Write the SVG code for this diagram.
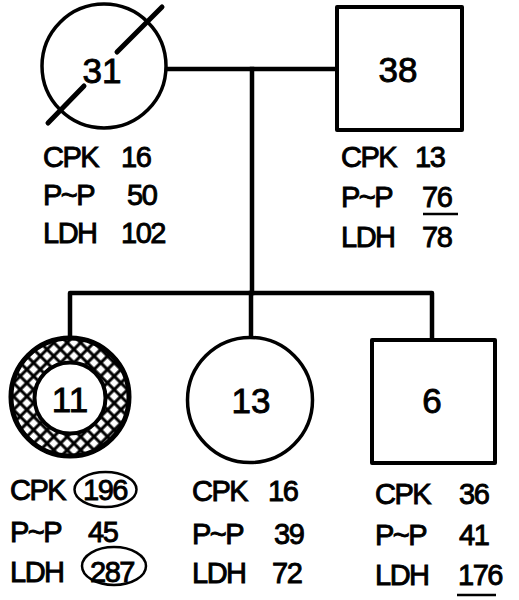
<svg xmlns="http://www.w3.org/2000/svg" width="519" height="600" viewBox="0 0 519 600">
<defs>
<style>
.sym{fill:#fff;stroke:#000;stroke-width:3.5}
.sq{fill:#fff;stroke:#000;stroke-width:4;stroke-linejoin:round}
.lbl{font-family:"Liberation Sans",Arial,sans-serif;font-size:35px;fill:#000;stroke:#000;stroke-width:0.9;text-anchor:middle}
.t{font-family:"Liberation Sans",Arial,sans-serif;font-size:29px;fill:#000;stroke:#000;stroke-width:0.9;letter-spacing:-1.5px}
.ln{fill:none;stroke:#000;stroke-width:4.5;stroke-linejoin:round;stroke-linecap:square}
.ul{stroke:#000;stroke-width:2.5}
.ring{fill:none;stroke:#000;stroke-width:2.5}
</style>
<pattern id="hatch" patternUnits="userSpaceOnUse" width="9.5" height="9.5" patternTransform="rotate(45)">
<rect width="9.5" height="9.5" fill="#fff"/>
<line x1="0" y1="4.75" x2="9.5" y2="4.75" stroke="#000" stroke-width="3"/>
<line x1="4.75" y1="0" x2="4.75" y2="9.5" stroke="#000" stroke-width="3"/>
</pattern>
</defs>
<rect width="519" height="600" fill="#fff"/>
<g id="connectors">
<path class="ln" d="M166 69 H337"/>
<path class="ln" d="M252 69 V293"/>
<path class="ln" d="M70 337 V293 H432 V340"/>
<path class="ln" d="M251 293 V337"/>
</g>
<g id="node-mother">
<circle class="sym" cx="104" cy="66" r="62"/>
<line x1="48" y1="123" x2="84" y2="86" stroke="#000" stroke-width="5" stroke-linecap="round"/>
<line x1="117" y1="52" x2="162" y2="7" stroke="#000" stroke-width="5" stroke-linecap="round"/>
<text class="lbl" x="102" y="83">31</text>
<text class="t" x="43" y="167">CPK</text><text class="t" x="121" y="167">16</text>
<text class="t" x="43" y="205">P~P</text><text class="t" x="127" y="205">50</text>
<text class="t" x="43" y="243">LDH</text><text class="t" x="121" y="243">102</text>
</g>
<g id="node-father">
<rect class="sq" x="337" y="7" width="125" height="123"/>
<text class="lbl" x="398" y="82">38</text>
<text class="t" x="341" y="167">CPK</text><text class="t" x="415" y="167">13</text>
<text class="t" x="341" y="207">P~P</text><text class="t" x="422" y="207">76</text>
<line class="ul" x1="423" y1="214" x2="458" y2="214"/>
<text class="t" x="341" y="247">LDH</text><text class="t" x="422" y="247">78</text>
</g>
<g id="node-child1">
<path d="M70 336 a61 61 0 1 0 0.01 0 Z M70 361 a37 37 0 1 1 -0.01 0 Z" fill="url(#hatch)" fill-rule="evenodd"/>
<circle cx="70" cy="397" r="59" fill="none" stroke="#000" stroke-width="5"/>
<circle cx="70" cy="398" r="35.5" fill="#fff" stroke="#000" stroke-width="4"/>
<text class="lbl" x="70" y="412">11</text>
<text class="t" x="10" y="500">CPK</text><text class="t" x="83" y="500">196</text>
<ellipse class="ring" cx="105.5" cy="489.5" rx="31" ry="17.5"/>
<text class="t" x="10" y="542">P~P</text><text class="t" x="88" y="542">45</text>
<text class="t" x="10" y="582">LDH</text><text class="t" x="90" y="582">287</text>
<ellipse class="ring" cx="114" cy="566" rx="32" ry="19"/>
</g>
<g id="node-child2">
<circle class="sym" cx="250" cy="400" r="62.5"/>
<text class="lbl" x="251" y="413">13</text>
<text class="t" x="192" y="501">CPK</text><text class="t" x="268" y="501">16</text>
<text class="t" x="192" y="544">P~P</text><text class="t" x="274" y="544">39</text>
<text class="t" x="192" y="583">LDH</text><text class="t" x="272" y="583">72</text>
</g>
<g id="node-child3">
<rect class="sq" x="372" y="340" width="123" height="123"/>
<text class="lbl" x="432" y="413">6</text>
<text class="t" x="375" y="504">CPK</text><text class="t" x="459" y="504">36</text>
<text class="t" x="375" y="545">P~P</text><text class="t" x="459" y="545">41</text>
<text class="t" x="375" y="585">LDH</text><text class="t" x="458" y="585">176</text>
<line class="ul" x1="457" y1="595" x2="496" y2="595"/>
</g>
</svg>
